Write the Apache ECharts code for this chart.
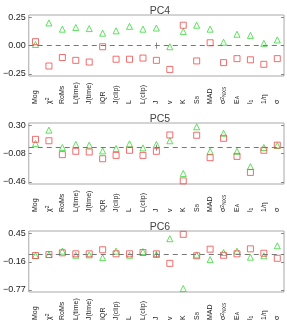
<!DOCTYPE html>
<html><head><meta charset="utf-8">
<script src="https://cdn.jsdelivr.net/npm/echarts@6/dist/echarts.min.js"></script>
<style>html,body{margin:0;padding:0;background:#fff}#c{width:287px;height:323px}</style>
</head><body><div id="c"></div>
<script>
const categories = ['Mog','χ^2','RoMs','L(time)','J(time)','IQR','J(clip)','L','L(clip)','J','v','K','S_B','MAD','σ^2_NXS','E_A','l_1','1/η','σ'];
const pc4Tri = [0.01,0.20,0.145,0.16,0.15,0.11,0.13,0.17,0.145,0.155,-0.01,0.125,0.18,0.145,0.03,0.10,0.09,0.02,0.05];
const pc4Sq  = [0.035,-0.18,-0.105,-0.13,-0.145,-0.01,-0.12,-0.12,-0.11,-0.13,-0.21,0.18,-0.135,0.025,-0.15,-0.115,-0.125,-0.165,-0.115];
const pc5Tri = [0.058,0.237,0.003,0.044,0.035,-0.043,-0.011,0.053,-0.002,0.044,0.094,-0.346,0.282,-0.048,0.195,-0.048,-0.254,0.003,0.031];
const pc5Sq  = [0.113,0.094,-0.093,-0.048,-0.057,-0.148,-0.103,-0.034,-0.103,-0.048,0.172,-0.446,0.168,-0.134,0.127,-0.116,-0.332,-0.034,0.035];
const pc6Tri = [-0.025,-0.003,0.07,-0.019,-0.01,-0.07,0.07,-0.019,0.06,-0.003,0.34,-0.74,-0.01,-0.113,0.04,0.07,-0.06,-0.03,0.187];
const pc6Sq  = [-0.025,-0.003,0.034,0.012,0.012,0.10,0.012,0.012,0.04,0.012,-0.194,0.435,-0.03,0.113,-0.019,0.012,0.12,0.025,-0.084];
const pc4Ticks = [-0.25,0.00,0.25];
const pc5Ticks = [-0.46,-0.08,0.30];
const pc6Ticks = [-0.77,-0.16,0.45];
const titles = ['PC4','PC5','PC6'];

const panels = [
  {tri:pc4Tri, sq:pc4Sq, ticks:pc4Ticks, min:-0.268, max:0.27, top:15},
  {tri:pc5Tri, sq:pc5Sq, ticks:pc5Ticks, min:-0.488, max:0.333, top:123},
  {tri:pc6Tri, sq:pc6Sq, ticks:pc6Ticks, min:-0.815, max:0.507, top:231}
];
const H = 61, L = 26, R = 3;

function fmtCat(s){
  let out = '';
  let m = s.match(/^([^_^]+)(\^(\d))?(_(\w+))?$/);
  if(!m) return '{n|'+s+'}';
  out += '{n|'+m[1]+'}';
  if(m[3]) out += '{sup|'+m[3]+'}';
  if(m[5]) out += '{sub|'+m[5]+'}';
  return out;
}
const rich = {
  n:{fontSize:7,fontFamily:'Liberation Sans, Arial',color:'#222'},
  sup:{fontSize:5,fontFamily:'Liberation Sans, Arial',color:'#222',verticalAlign:'top'},
  sub:{fontSize:5,fontFamily:'Liberation Sans, Arial',color:'#222',verticalAlign:'bottom'}
};

const grid=[], xAxis=[], yAxis=[], series=[], title=[];
panels.forEach((p,i)=>{
  grid.push({left:L, right:R, top:p.top, height:H, show:true, borderColor:'#a8a8a8', borderWidth:1, containLabel:false});
  title.push({text:titles[i], left:L+129, top:p.top-14, textAlign:'center',
    textStyle:{fontSize:10.5,fontWeight:'normal',color:'#444',fontFamily:'Liberation Sans, Arial'}});
  xAxis.push({type:'category', gridIndex:i, data:categories, boundaryGap:true,
    axisLine:{show:false},
    axisTick:{show:true, inside:true, length:3, alignWithLabel:true, interval:(idx)=>idx===9, lineStyle:{color:'#888'}},
    axisLabel:{rotate:90, interval:0, align:'left', verticalAlign:'middle', margin:28, formatter:fmtCat, rich:rich}});
  xAxis.push({type:'category', gridIndex:i, data:categories, boundaryGap:true, position:'top',
    axisLine:{show:false},
    axisTick:{show:true, inside:true, length:3, alignWithLabel:true, interval:(idx)=>idx===9, lineStyle:{color:'#888'}},
    axisLabel:{show:false}});
  const yb = {type:'value', gridIndex:i, min:p.min, max:p.max, splitLine:{show:false},
    axisLine:{show:false}};
  yAxis.push(Object.assign({}, yb, {position:'left',
    axisTick:{show:true, inside:true, length:3, customValues:p.ticks, lineStyle:{color:'#888'}},
    axisLabel:{customValues:p.ticks, margin:3, fontSize:9, color:'#222', fontFamily:'Liberation Sans, Arial',
      formatter:(v)=> (v<0?'\u2212':'')+Math.abs(v).toFixed(2)}}));
  yAxis.push(Object.assign({}, yb, {position:'right',
    axisTick:{show:true, inside:true, length:3, customValues:p.ticks, lineStyle:{color:'#888'}},
    axisLabel:{show:false}}));
  series.push({type:'scatter', xAxisIndex:2*i, yAxisIndex:2*i, data:p.tri, symbol:'triangle', symbolSize:6,
    itemStyle:{color:'rgba(0,0,0,0)', borderColor:'#3ad83a', borderWidth:1}, silent:true, z:3,
    markLine:{silent:true, symbol:'none', label:{show:false},
      lineStyle:{color:'#777', type:[5,4], width:1}, data:[{yAxis:0}]}});
  series.push({type:'scatter', xAxisIndex:2*i, yAxisIndex:2*i, data:p.sq, symbol:'rect', symbolSize:6,
    itemStyle:{color:'rgba(0,0,0,0)', borderColor:'#f04a4a', borderWidth:1}, silent:true, z:4});
});

const chart = echarts.init(document.getElementById('c'), null, {renderer:'canvas'});
chart.setOption({animation:false, backgroundColor:'#fff', title, grid, xAxis, yAxis, series});
</script></body></html>
